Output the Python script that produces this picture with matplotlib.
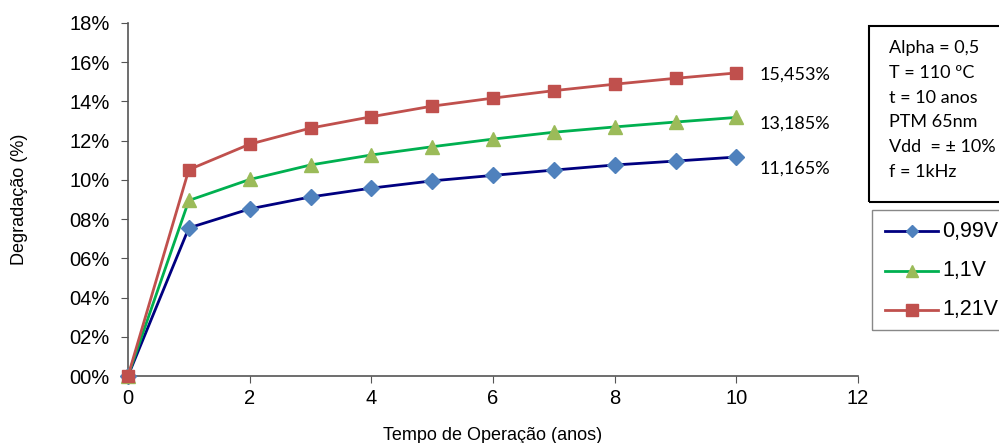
import matplotlib
matplotlib.use("Agg")
import matplotlib.pyplot as plt
from matplotlib.lines import Line2D
from matplotlib.patches import Rectangle

years = [0, 1, 2, 3, 4, 5, 6, 7, 8, 9, 10]
deg_099 = [0.0, 7.55, 8.52, 9.13, 9.58, 9.95, 10.23, 10.50, 10.76, 10.96, 11.165]
deg_110 = [0.0, 8.95, 10.02, 10.76, 11.27, 11.69, 12.08, 12.43, 12.70, 12.95, 13.185]
deg_121 = [0.0, 10.52, 11.82, 12.64, 13.22, 13.76, 14.17, 14.55, 14.88, 15.18, 15.453]

series_labels = ["0,99V", "1,1V", "1,21V"]
end_labels = ["11,165%", "13,185%", "15,453%"]
y_ticks = [0, 2, 4, 6, 8, 10, 12, 14, 16, 18]
x_ticks = [0, 2, 4, 6, 8, 10, 12]
info_lines = ["Alpha = 0,5", "T = 110 ºC", "t = 10 anos", "PTM 65nm", "Vdd  = ± 10%", "f = 1kHz"]

line_colors = ["#000080", "#00B050", "#C0504D"]
marker_colors = ["#4F81BD", "#9BBB59", "#C0504D"]
markers = ["D", "^", "s"]
marker_sizes = [8, 10, 9]
legend_marker_sizes = [6.5, 8.5, 8]
end_label_dy = [-8.5, -4.5, -1.5]  # vertical nudge (points) of the end-value labels

fig = plt.figure(figsize=(9.99, 4.43), dpi=100)
ax = fig.add_axes([128 / 999, 1 - 376 / 443, 730 / 999, 353 / 443])

for ys, lc, mc, mk, ms, lab in zip([deg_099, deg_110, deg_121], line_colors,
                                   marker_colors, markers, marker_sizes, series_labels):
    ax.plot(years, ys, color=lc, lw=2, marker=mk, ms=ms, markerfacecolor=mc,
            markeredgecolor=mc, label=lab, clip_on=False, zorder=3)

for ys, txt, dy in zip([deg_099, deg_110, deg_121], end_labels, end_label_dy):
    ax.annotate(txt, (years[-1], ys[-1]), xytext=(16.5, dy), textcoords="offset points",
                va="center", ha="left", fontsize=13, family="Lato")

ax.set_xlim(0, 12)
ax.set_ylim(0, 18)
ax.set_xticks(x_ticks)
ax.set_yticks(y_ticks)
ax.set_yticklabels([f"{v:02d}%" for v in y_ticks])
ax.tick_params(axis="both", labelsize=14.5, direction="out", length=5, color="#555555")
ax.tick_params(axis="y", pad=8)
ax.tick_params(axis="x", pad=4)
for lbl in ax.get_xticklabels() + ax.get_yticklabels():
    lbl.set_family("Liberation Sans")
for s in ["top", "right"]:
    ax.spines[s].set_visible(False)
for s in ["left", "bottom"]:
    ax.spines[s].set_color("#555555")
    ax.spines[s].set_linewidth(1.2)

ax.set_xlabel("Tempo de Operação (anos)", fontsize=13, family="Liberation Sans", va="center")
ax.set_ylabel("Degradação (%)", fontsize=13, family="Liberation Sans", va="center")
ax.xaxis.set_label_coords(0.5, (376 - 435) / 353)
ax.yaxis.set_label_coords((20 - 128) / 730, 0.5)

# parameter box
fig.patches.append(Rectangle((869 / 999, 1 - 202 / 443), 140 / 999, 176 / 443,
                             transform=fig.transFigure, fill=False, ec="black", lw=1.5))
for i, line in enumerate(info_lines):
    fig.text(889 / 999, 1 - (48 + i * 24.8) / 443, line, fontsize=13, family="Lato",
             va="center", ha="left")

# legend box
fig.patches.append(Rectangle((872 / 999, 1 - 330 / 443), 140 / 999, 120 / 443,
                             transform=fig.transFigure, fill=False, ec="#888888", lw=1))
for i, (lc, mc, mk, ms, lab) in enumerate(zip(line_colors, marker_colors, markers,
                                               legend_marker_sizes, series_labels)):
    yc = 1 - (231 + i * 39.5) / 443
    fig.add_artist(Line2D([885 / 999, 938 / 999], [yc, yc], transform=fig.transFigure,
                          color=lc, lw=2))
    fig.add_artist(Line2D([911.5 / 999], [yc], transform=fig.transFigure, marker=mk,
                          ms=ms, color=mc, markeredgecolor=mc))
    fig.text(942 / 999, yc, lab, fontsize=15.5, family="Liberation Sans", va="center", ha="left")

fig.savefig("out.png", dpi=100)
